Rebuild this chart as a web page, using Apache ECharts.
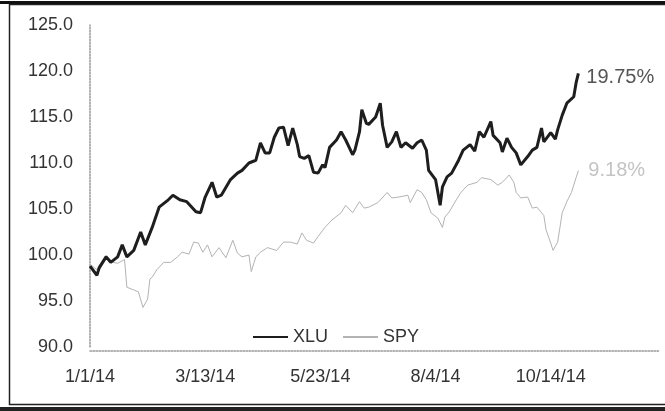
<!DOCTYPE html>
<html>
<head>
<meta charset="utf-8">
<script src="https://cdn.jsdelivr.net/npm/echarts@6/dist/echarts.min.js"></script>
<style>
html,body{margin:0;padding:0;background:#fff;}
#c{width:665px;height:411px;}
</style>
</head>
<body>
<div id="c"></div>
<script>
// trading-day index (0 = 1/1/14) and normalized value
var xluDays = [0,3,4,7,9,12,14,16,19,22,24,27,30,34,36,39,42,46,48,50,53,55,57,61,64,66,69,72,74,76,78,80,82,84,86,88,90,91,93,95,97,99,101,102,104,107,109,111,114,115,117,118,120,121,124,126,127,129,131,133,135,137,140,142,144,146,147,150,152,153,155,157,160,162,165,167,169,171,174,175,178,179,181,183,185,187,190,192,194,196,197,200,202,203,205,207,210,211,212];
var xluVals = [98.8,97.8,98.6,99.8,99.2,99.8,101.1,99.8,100.5,102.5,101.1,103.0,105.2,106.0,106.5,106.0,105.8,104.7,104.6,106.3,107.9,106.3,106.5,108.2,108.9,109.2,110.0,110.3,112.2,111.1,111.1,112.8,113.8,113.9,111.9,113.8,112.0,110.7,110.5,110.8,109.0,108.9,109.8,109.5,111.7,112.5,113.4,112.5,110.9,111.4,113.4,115.8,114.3,114.2,115.0,116.5,114.1,111.7,112.3,113.4,111.7,112.2,111.6,112.2,112.5,111.4,109.2,108.2,105.4,107.4,108.5,108.9,110.3,111.4,112.0,111.3,113.4,112.8,114.5,113.0,112.2,111.2,112.7,111.7,111.1,109.8,110.7,111.4,111.7,113.8,112.3,113.3,112.6,113.6,115.2,116.5,117.2,118.7,119.75];

var spyDays = [0,3,4,7,10,12,15,16,19,21,23,25,26,27,29,32,35,38,40,43,45,47,49,51,53,56,59,62,64,66,69,70,72,74,77,81,84,87,90,92,94,97,99,102,105,109,111,114,117,119,121,125,129,131,134,138,139,142,144,146,148,151,153,154,156,159,161,164,168,170,174,177,179,182,184,185,187,190,192,194,197,198,200,201,203,204,205,207,209,211,212];
var spyVals = [99.0,98.4,98.9,100.0,99.2,99.1,99.5,96.5,96.2,96.0,94.3,95.2,97.4,97.6,98.4,99.2,99.2,99.8,100.3,100.1,101.4,101.3,100.3,101.1,99.8,100.8,99.7,101.6,100.2,99.8,100.0,98.2,99.8,100.3,100.8,100.5,101.4,101.4,101.2,102.4,101.6,101.3,102.0,103.0,103.8,104.6,105.4,104.6,105.8,105.1,105.2,105.7,106.8,106.2,106.3,106.5,105.7,107.1,106.8,106.0,104.6,104.0,103.0,104.1,104.7,106.0,106.8,107.6,107.9,108.4,108.2,107.6,107.9,108.7,107.9,106.8,106.2,106.3,105.1,105.2,104.3,102.7,101.3,100.5,101.4,103.0,104.6,105.8,106.8,108.4,109.18];

var tickDays = [0,50,100,150,200];
var tickLabels = ['1/1/14','3/13/14','5/23/14','8/4/14','10/14/14'];
var seriesNames = ['XLU','SPY'];
var endLabels = ['19.75%','9.18%'];

function pairs(d, v){ var r=[]; for(var i=0;i<d.length;i++) r.push([d[i], v[i]]); return r; }

var chart = echarts.init(document.getElementById('c'), null, {renderer:'canvas'});
var font = 'Liberation Sans, Arial, sans-serif';
chart.setOption({
  backgroundColor:'#fff',
  animation:false,
  textStyle:{fontFamily:font},
  grid:{left:90, right:6, top:25, bottom:64, containLabel:false},
  legend:{
    data:seriesNames, left:247, top:323, itemWidth:35, itemHeight:14, itemGap:14,
    itemStyle:{color:'transparent', borderColor:'transparent', borderWidth:0, opacity:0},
    textStyle:{fontSize:18, color:'#333', fontFamily:font}
  },
  xAxis:{
    type:'value', min:0, max:247, interval:50, offset:4,
    axisLine:{show:true, lineStyle:{color:'#999', type:'dotted', width:1.5}},
    axisTick:{show:false},
    splitLine:{show:false},
    axisLabel:{
      margin:17, fontSize:18, color:'#333', showMaxLabel:false,
      formatter:function(v){ var k=tickDays.indexOf(v); return k>=0?tickLabels[k]:''; }
    }
  },
  yAxis:{
    type:'value', min:90, max:125, interval:5,
    axisLine:{show:true, lineStyle:{color:'#999', type:'dotted', width:1.5}},
    axisTick:{show:false},
    splitLine:{show:false},
    axisLabel:{margin:17, fontSize:18, color:'#333', formatter:function(v){return v.toFixed(1);}}
  },
  series:[
    {
      name:seriesNames[0], type:'line', symbol:'none', data:pairs(xluDays, xluVals),
      lineStyle:{color:'#1e1e1e', width:3}, itemStyle:{color:'#1e1e1e'}, z:3,
      endLabel:{show:true, formatter:endLabels[0], fontSize:20, color:'#555', distance:8, fontFamily:font, offset:[0,4]}
    },
    {
      name:seriesNames[1], type:'line', symbol:'none', data:pairs(spyDays, spyVals),
      lineStyle:{color:'#b3b3b3', width:1}, itemStyle:{color:'#b3b3b3'}, z:2,
      endLabel:{show:true, formatter:endLabels[1], fontSize:20, color:'#c4c4c4', distance:10, fontFamily:font}
    }
  ],
  graphic:[
    {type:'rect', shape:{x:9.5, y:4.5, width:670, height:400}, style:{fill:'none', stroke:'#222', lineWidth:1.5}, silent:true},
    {type:'rect', shape:{x:0, y:1, width:665, height:3}, style:{fill:'#111'}, silent:true},
    {type:'rect', shape:{x:0, y:407, width:665, height:4}, style:{fill:'#222'}, silent:true}
  ]
});
</script>
</body>
</html>
